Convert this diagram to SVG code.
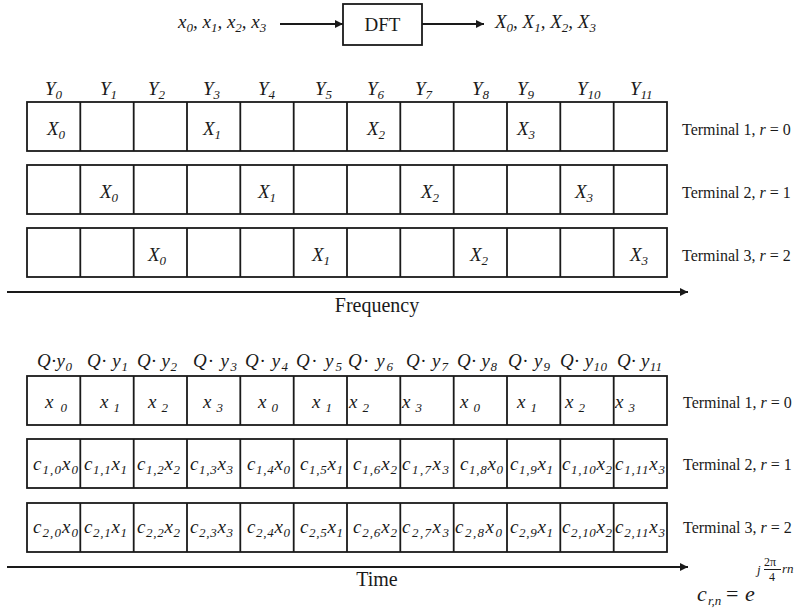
<svg xmlns="http://www.w3.org/2000/svg" width="805" height="612" viewBox="0 0 805 612">
<style>
.t{font-family:"Liberation Serif","Times New Roman",Times,"DejaVu Serif","Noto Serif",serif;fill:#1a1a1a;font-size:19px}
.i{font-style:italic}
.s{font-size:13px}
.term{font-size:16px}
.ax{font-size:20px}
.cell{fill:#fff;stroke:#1a1a1a;stroke-width:1.8}
.ln{stroke:#1a1a1a;stroke-width:1.8;fill:none}
</style>
<defs>
<marker id="ah" viewBox="0 0 10 10" refX="10" refY="5" markerWidth="10" markerHeight="8" markerUnits="userSpaceOnUse" orient="auto">
<path d="M0,0 L10,5 L0,10 z" fill="#1a1a1a"/>
</marker>
<g id="grid">
<rect class="cell" x="27" y="0" width="640" height="49"/>
<path class="ln" d="M80.3,0V49M133.7,0V49M187,0V49M240.3,0V49M293.7,0V49M347,0V49M400.3,0V49M453.7,0V49M507,0V49M560.3,0V49M613.7,0V49"/>
</g>
</defs>

<g id="connectors">
<line class="ln" x1="280" y1="24" x2="343" y2="24" marker-end="url(#ah)"/>
<line class="ln" x1="422" y1="24" x2="484" y2="24" marker-end="url(#ah)"/>
<line class="ln" x1="7" y1="292" x2="688" y2="292" marker-end="url(#ah)"/>
<line class="ln" x1="7" y1="567" x2="688" y2="567" marker-end="url(#ah)"/>
</g>

<g id="dft-input">
<text class="t i" font-family="Liberation Serif, serif" x="178" y="28">x<tspan class="s" dy="4">0</tspan><tspan dy="-4">, x</tspan><tspan class="s" dy="4">1</tspan><tspan dy="-4">, x</tspan><tspan class="s" dy="4">2</tspan><tspan dy="-4">, x</tspan><tspan class="s" dy="4">3</tspan></text>
</g>
<g id="dft">
<rect class="cell" x="343" y="4" width="79" height="41"/>
<text class="t" x="382.5" y="31" text-anchor="middle">DFT</text>
</g>
<g id="dft-output">
<text class="t i" x="495" y="28">X<tspan class="s" dy="4">0</tspan><tspan dy="-4">, X</tspan><tspan class="s" dy="4">1</tspan><tspan dy="-4">, X</tspan><tspan class="s" dy="4">2</tspan><tspan dy="-4">, X</tspan><tspan class="s" dy="4">3</tspan></text>
</g>

<g id="freq-labels" class="t i">
<text x="45" y="95">Y<tspan class="s" dy="4">0</tspan></text>
<text x="100" y="95">Y<tspan class="s" dy="4">1</tspan></text>
<text x="148" y="95">Y<tspan class="s" dy="4">2</tspan></text>
<text x="203" y="95">Y<tspan class="s" dy="4">3</tspan></text>
<text x="258" y="95">Y<tspan class="s" dy="4">4</tspan></text>
<text x="315" y="95">Y<tspan class="s" dy="4">5</tspan></text>
<text x="367" y="95">Y<tspan class="s" dy="4">6</tspan></text>
<text x="415" y="95">Y<tspan class="s" dy="4">7</tspan></text>
<text x="472" y="95">Y<tspan class="s" dy="4">8</tspan></text>
<text x="517" y="95">Y<tspan class="s" dy="4">9</tspan></text>
<text x="577" y="95">Y<tspan class="s" dy="4">10</tspan></text>
<text x="630" y="95">Y<tspan class="s" dy="4">11</tspan></text>
</g>

<g id="freq-terminal1">
<use href="#grid" y="102"/>
<g class="t i">
<text x="47" y="135">X<tspan class="s" dy="4">0</tspan></text>
<text x="203" y="135">X<tspan class="s" dy="4">1</tspan></text>
<text x="367" y="135">X<tspan class="s" dy="4">2</tspan></text>
<text x="517" y="135">X<tspan class="s" dy="4">3</tspan></text>
</g>
<text class="t term" x="682" y="135">Terminal 1, <tspan class="i">r</tspan> = 0</text>
</g>
<g id="freq-terminal2">
<use href="#grid" y="165"/>
<g class="t i">
<text x="100" y="198">X<tspan class="s" dy="4">0</tspan></text>
<text x="258" y="198">X<tspan class="s" dy="4">1</tspan></text>
<text x="421" y="198">X<tspan class="s" dy="4">2</tspan></text>
<text x="575" y="198">X<tspan class="s" dy="4">3</tspan></text>
</g>
<text class="t term" x="682" y="198">Terminal 2, <tspan class="i">r</tspan> = 1</text>
</g>
<g id="freq-terminal3">
<use href="#grid" y="228"/>
<g class="t i">
<text x="148" y="261">X<tspan class="s" dy="4">0</tspan></text>
<text x="312" y="261">X<tspan class="s" dy="4">1</tspan></text>
<text x="470" y="261">X<tspan class="s" dy="4">2</tspan></text>
<text x="630" y="261">X<tspan class="s" dy="4">3</tspan></text>
</g>
<text class="t term" x="682" y="261">Terminal 3, <tspan class="i">r</tspan> = 2</text>
</g>
<text id="freq-axis" class="t ax" x="377" y="312" text-anchor="middle">Frequency</text>

<g id="time-labels" class="t i">
<text x="37" y="367" textLength="35" lengthAdjust="spacing">Q·y<tspan class="s" dy="4">0</tspan></text>
<text x="87" y="367" textLength="41" lengthAdjust="spacing">Q· y<tspan class="s" dy="4">1</tspan></text>
<text x="137" y="367" textLength="40" lengthAdjust="spacing">Q· y<tspan class="s" dy="4">2</tspan></text>
<text x="193" y="367" textLength="44" lengthAdjust="spacing">Q· y<tspan class="s" dy="4">3</tspan></text>
<text x="245" y="367" textLength="43" lengthAdjust="spacing">Q· y<tspan class="s" dy="4">4</tspan></text>
<text x="296" y="367" textLength="46" lengthAdjust="spacing">Q· y<tspan class="s" dy="4">5</tspan></text>
<text x="348" y="367" textLength="45" lengthAdjust="spacing">Q· y<tspan class="s" dy="4">6</tspan></text>
<text x="406" y="367" textLength="42" lengthAdjust="spacing">Q· y<tspan class="s" dy="4">7</tspan></text>
<text x="457" y="367" textLength="40" lengthAdjust="spacing">Q· y<tspan class="s" dy="4">8</tspan></text>
<text x="508" y="367" textLength="42" lengthAdjust="spacing">Q· y<tspan class="s" dy="4">9</tspan></text>
<text x="560" y="367" textLength="47" lengthAdjust="spacing">Q· y<tspan class="s" dy="4">10</tspan></text>
<text x="617" y="367" textLength="45" lengthAdjust="spacing">Q· y<tspan class="s" dy="4">11</tspan></text>
</g>

<g id="time-terminal1">
<use href="#grid" y="376"/>
<g class="t i">
<text x="45" y="408" textLength="22" lengthAdjust="spacing">x<tspan class="s" dy="4">0</tspan></text>
<text x="100" y="408" textLength="20" lengthAdjust="spacing">x<tspan class="s" dy="4">1</tspan></text>
<text x="148" y="408" textLength="20" lengthAdjust="spacing">x<tspan class="s" dy="4">2</tspan></text>
<text x="203" y="408" textLength="20" lengthAdjust="spacing">x<tspan class="s" dy="4">3</tspan></text>
<text x="258" y="408" textLength="20" lengthAdjust="spacing">x<tspan class="s" dy="4">0</tspan></text>
<text x="312" y="408" textLength="20" lengthAdjust="spacing">x<tspan class="s" dy="4">1</tspan></text>
<text x="349" y="408" textLength="20" lengthAdjust="spacing">x<tspan class="s" dy="4">2</tspan></text>
<text x="402" y="408" textLength="20" lengthAdjust="spacing">x<tspan class="s" dy="4">3</tspan></text>
<text x="460" y="408" textLength="20" lengthAdjust="spacing">x<tspan class="s" dy="4">0</tspan></text>
<text x="517" y="408" textLength="20" lengthAdjust="spacing">x<tspan class="s" dy="4">1</tspan></text>
<text x="565" y="408" textLength="20" lengthAdjust="spacing">x<tspan class="s" dy="4">2</tspan></text>
<text x="615" y="408" textLength="20" lengthAdjust="spacing">x<tspan class="s" dy="4">3</tspan></text>
</g>
<text class="t term" x="683" y="408">Terminal 1, <tspan class="i">r</tspan> = 0</text>
</g>

<g id="time-terminal2">
<use href="#grid" y="439"/>
<g class="t i">
<text x="33" y="470" textLength="45" lengthAdjust="spacing">c<tspan class="s" dy="4">1,0</tspan><tspan dy="-4">x</tspan><tspan class="s" dy="4">0</tspan></text>
<text x="84" y="470" textLength="43" lengthAdjust="spacing">c<tspan class="s" dy="4">1,1</tspan><tspan dy="-4">x</tspan><tspan class="s" dy="4">1</tspan></text>
<text x="137" y="470" textLength="43" lengthAdjust="spacing">c<tspan class="s" dy="4">1,2</tspan><tspan dy="-4">x</tspan><tspan class="s" dy="4">2</tspan></text>
<text x="190" y="470" textLength="43" lengthAdjust="spacing">c<tspan class="s" dy="4">1,3</tspan><tspan dy="-4">x</tspan><tspan class="s" dy="4">3</tspan></text>
<text x="247" y="470" textLength="43" lengthAdjust="spacing">c<tspan class="s" dy="4">1,4</tspan><tspan dy="-4">x</tspan><tspan class="s" dy="4">0</tspan></text>
<text x="300" y="470" textLength="43" lengthAdjust="spacing">c<tspan class="s" dy="4">1,5</tspan><tspan dy="-4">x</tspan><tspan class="s" dy="4">1</tspan></text>
<text x="353" y="470" textLength="44" lengthAdjust="spacing">c<tspan class="s" dy="4">1,6</tspan><tspan dy="-4">x</tspan><tspan class="s" dy="4">2</tspan></text>
<text x="402" y="470" textLength="47" lengthAdjust="spacing">c<tspan class="s" dy="4">1,7</tspan><tspan dy="-4">x</tspan><tspan class="s" dy="4">3</tspan></text>
<text x="460" y="470" textLength="43" lengthAdjust="spacing">c<tspan class="s" dy="4">1,8</tspan><tspan dy="-4">x</tspan><tspan class="s" dy="4">0</tspan></text>
<text x="510" y="470" textLength="43" lengthAdjust="spacing">c<tspan class="s" dy="4">1,9</tspan><tspan dy="-4">x</tspan><tspan class="s" dy="4">1</tspan></text>
<text x="562" y="470" textLength="50" lengthAdjust="spacing">c<tspan class="s" dy="4">1,10</tspan><tspan dy="-4">x</tspan><tspan class="s" dy="4">2</tspan></text>
<text x="615" y="470" textLength="50" lengthAdjust="spacing">c<tspan class="s" dy="4">1,11</tspan><tspan dy="-4">x</tspan><tspan class="s" dy="4">3</tspan></text>
</g>
<text class="t term" x="683" y="470">Terminal 2, <tspan class="i">r</tspan> = 1</text>
</g>

<g id="time-terminal3">
<use href="#grid" y="503"/>
<g class="t i">
<text x="33" y="533" textLength="45" lengthAdjust="spacing">c<tspan class="s" dy="4">2,0</tspan><tspan dy="-4">x</tspan><tspan class="s" dy="4">0</tspan></text>
<text x="84" y="533" textLength="43" lengthAdjust="spacing">c<tspan class="s" dy="4">2,1</tspan><tspan dy="-4">x</tspan><tspan class="s" dy="4">1</tspan></text>
<text x="137" y="533" textLength="43" lengthAdjust="spacing">c<tspan class="s" dy="4">2,2</tspan><tspan dy="-4">x</tspan><tspan class="s" dy="4">2</tspan></text>
<text x="190" y="533" textLength="43" lengthAdjust="spacing">c<tspan class="s" dy="4">2,3</tspan><tspan dy="-4">x</tspan><tspan class="s" dy="4">3</tspan></text>
<text x="247" y="533" textLength="43" lengthAdjust="spacing">c<tspan class="s" dy="4">2,4</tspan><tspan dy="-4">x</tspan><tspan class="s" dy="4">0</tspan></text>
<text x="300" y="533" textLength="43" lengthAdjust="spacing">c<tspan class="s" dy="4">2,5</tspan><tspan dy="-4">x</tspan><tspan class="s" dy="4">1</tspan></text>
<text x="353" y="533" textLength="44" lengthAdjust="spacing">c<tspan class="s" dy="4">2,6</tspan><tspan dy="-4">x</tspan><tspan class="s" dy="4">2</tspan></text>
<text x="402" y="533" textLength="47" lengthAdjust="spacing">c<tspan class="s" dy="4">2,7</tspan><tspan dy="-4">x</tspan><tspan class="s" dy="4">3</tspan></text>
<text x="455" y="533" textLength="47" lengthAdjust="spacing">c<tspan class="s" dy="4">2,8</tspan><tspan dy="-4">x</tspan><tspan class="s" dy="4">0</tspan></text>
<text x="510" y="533" textLength="43" lengthAdjust="spacing">c<tspan class="s" dy="4">2,9</tspan><tspan dy="-4">x</tspan><tspan class="s" dy="4">1</tspan></text>
<text x="562" y="533" textLength="50" lengthAdjust="spacing">c<tspan class="s" dy="4">2,10</tspan><tspan dy="-4">x</tspan><tspan class="s" dy="4">2</tspan></text>
<text x="615" y="533" textLength="50" lengthAdjust="spacing">c<tspan class="s" dy="4">2,11</tspan><tspan dy="-4">x</tspan><tspan class="s" dy="4">3</tspan></text>
</g>
<text class="t term" x="683" y="533">Terminal 3, <tspan class="i">r</tspan> = 2</text>
</g>
<text id="time-axis" class="t ax" x="377" y="586" text-anchor="middle">Time</text>

<g id="formula" class="t">
<text class="i" x="697" y="601" style="font-size:22px">c</text>
<text class="i s" x="708" y="605">r,n</text>
<text x="726" y="601" style="font-size:22px">=</text>
<text class="i" x="745" y="601" style="font-size:22px">e</text>
<text class="i s" x="757" y="574">j</text>
<text x="764" y="566" style="font-size:12px">2π</text>
<line class="ln" x1="764" y1="569.5" x2="781" y2="569.5" style="stroke-width:1"/>
<text x="769" y="581" style="font-size:12px">4</text>
<text class="i s" x="782" y="573">rn</text>
</g>
</svg>
